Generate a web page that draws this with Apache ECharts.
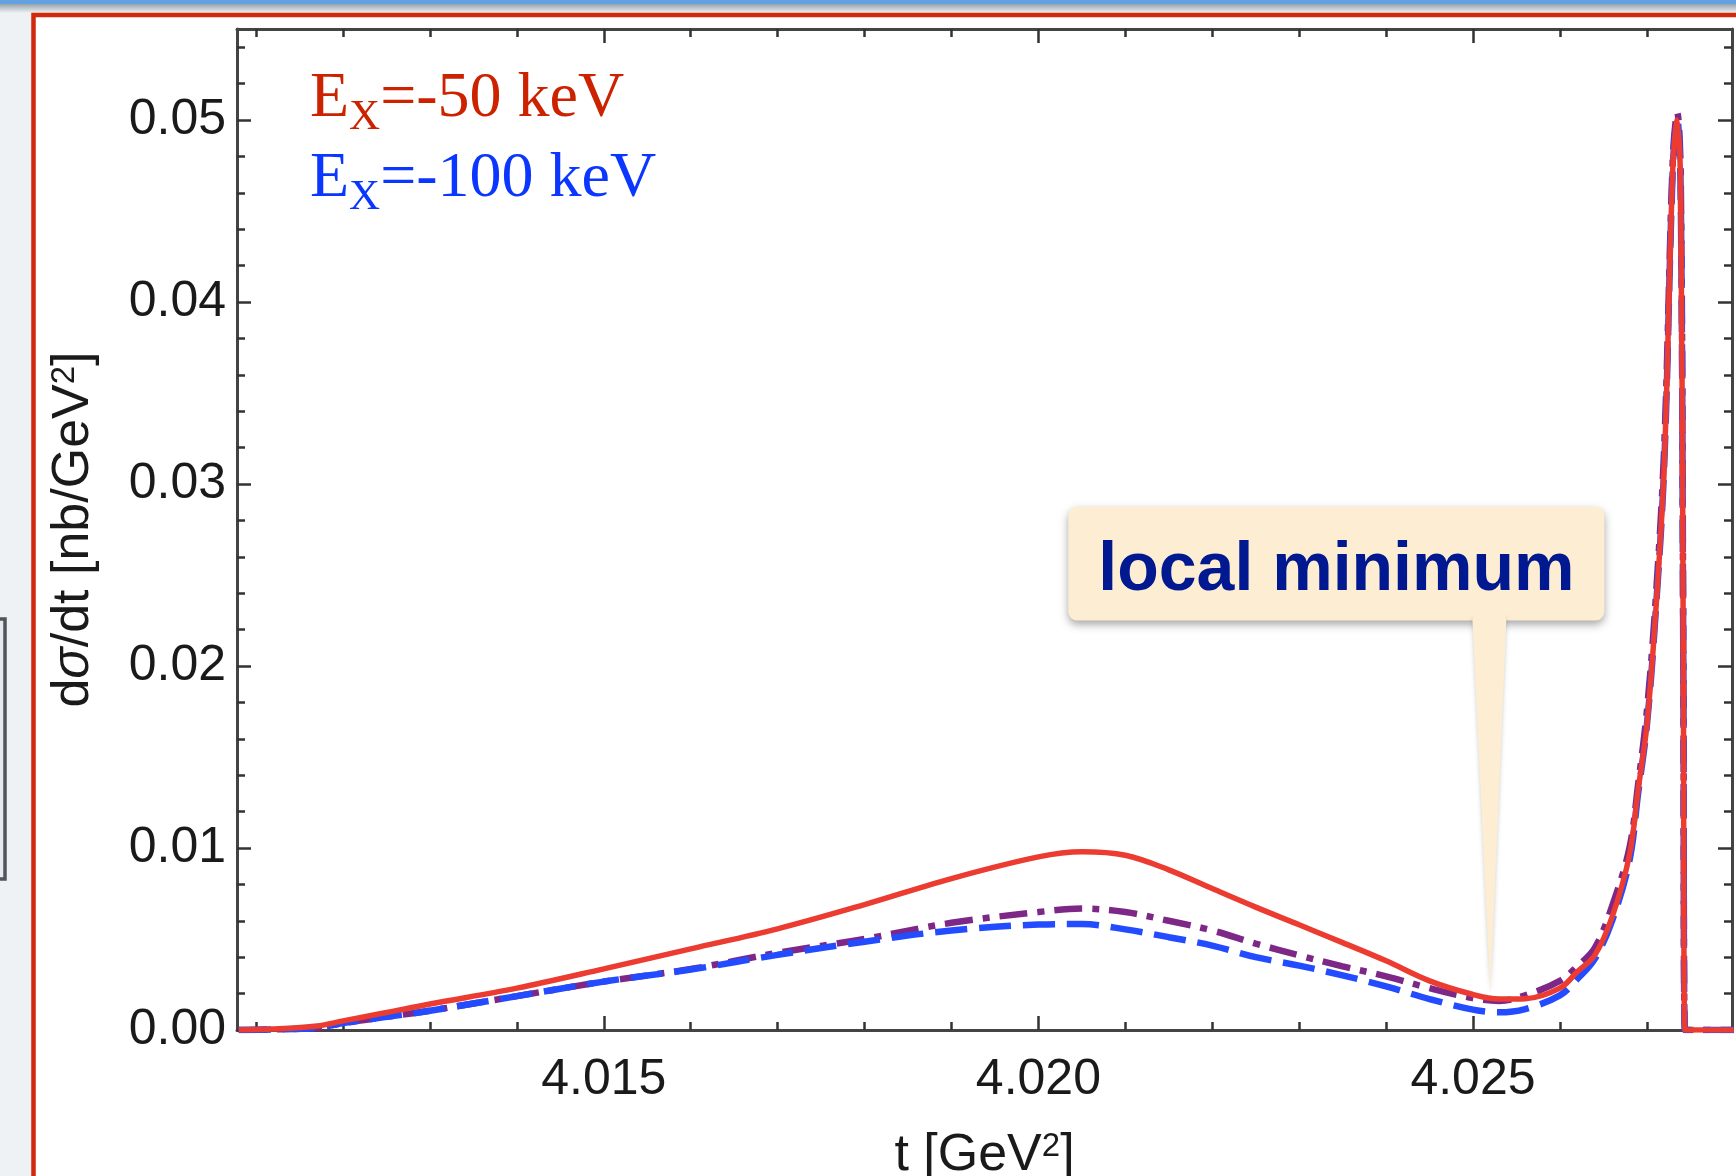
<!DOCTYPE html>
<html>
<head>
<meta charset="utf-8">
<script src="https://cdn.jsdelivr.net/npm/echarts@6/dist/echarts.min.js"></script>
<style>
html,body{margin:0;padding:0;background:#eef2f5;}
#chart{width:1736px;height:1176px;}
</style>
</head>
<body>
<div id="chart"></div>
<script>
// ---- data ----
const tValues = [4.0108, 4.0112, 4.0117, 4.0120, 4.0125, 4.0130, 4.0140, 4.0150, 4.0160, 4.0170,
  4.0180, 4.0190, 4.0200, 4.0205, 4.0210, 4.0215, 4.0220, 4.0225, 4.0230, 4.0235,
  4.0240, 4.0245, 4.0250, 4.0253, 4.0256, 4.0260, 4.0262, 4.0264, 4.0266, 4.0268,
  4.0269, 4.0270, 4.0271, 4.0272, 4.0273, 4.02735, 4.02739, 4.02742, 4.02744, 4.0280];
const redValues = [0.0000, 0.00005, 0.00022, 0.0005, 0.00096, 0.00143, 0.0023, 0.00336, 0.00446, 0.00556,
  0.00689, 0.00832, 0.00951, 0.00979, 0.0096, 0.0088, 0.00777, 0.00675, 0.00578, 0.0048,
  0.0038, 0.0027, 0.00195, 0.0017, 0.00172, 0.0023, 0.0032, 0.0041, 0.0062, 0.0096,
  0.0132, 0.0167, 0.0228, 0.031, 0.0475, 0.0500, 0.046, 0.020, 0.0, 0.0];
const purpleValues = [0.0000, 0.00003, 0.00012, 0.00038, 0.00072, 0.00106, 0.00186, 0.00266, 0.00335, 0.00424,
  0.0050, 0.00589, 0.00648, 0.00667, 0.00648, 0.0060, 0.00547, 0.00475, 0.0041, 0.0035,
  0.00295, 0.0023, 0.00175, 0.0016, 0.0019, 0.0027, 0.0035, 0.0045, 0.0068, 0.0100,
  0.0135, 0.0175, 0.0235, 0.032, 0.048, 0.0504, 0.047, 0.021, 0.0, 0.0];
const blueValues = [0.0000, 0.00003, 0.00012, 0.00038, 0.00072, 0.00106, 0.00186, 0.00266, 0.00332, 0.00413,
  0.00485, 0.00547, 0.00579, 0.00582, 0.00553, 0.0051, 0.00464, 0.0040, 0.00354, 0.0030,
  0.0024, 0.0017, 0.00112, 0.00097, 0.00115, 0.0019, 0.0028, 0.0039, 0.0060, 0.0093,
  0.0130, 0.0167, 0.0228, 0.031, 0.0475, 0.0500, 0.046, 0.020, 0.0, 0.0];

const xMajorTicks = [4.015, 4.020, 4.025];
const xMinorTicks = [4.011, 4.012, 4.013, 4.014, 4.016, 4.017, 4.018, 4.019,
  4.021, 4.022, 4.023, 4.024, 4.026, 4.027];
const yMajorTicks = [0.00, 0.01, 0.02, 0.03, 0.04, 0.05];
const yMinorTicks = [0.002, 0.004, 0.006, 0.008, 0.012, 0.014, 0.016, 0.018,
  0.022, 0.024, 0.026, 0.028, 0.032, 0.034, 0.036, 0.038,
  0.042, 0.044, 0.046, 0.048, 0.052, 0.054];
const xRange = [4.01078, 4.02798];
const yRange = [0, 0.055];

const legendSub = 'X';
const legendLabels = ['=-50 keV', '=-100 keV'];
const calloutText = 'local minimum';
const calloutPoint = [4.0252, 0.0020];
const xName = 't [GeV{s|2}]';
const yName = 'd{i|σ}/dt [nb/GeV{s|2}]';

// ---- styles ----
const SANS = 'Liberation Sans';
const SERIF = 'Liberation Serif';
const AXIS_COLOR = '#444';
const TICK_COLOR = '#333';
const TEXT_COLOR = '#1a1a1a';

function mkX(position, ticks, len, withLine, withLabel) {
  const ax = {
    type: 'value', position: position, min: xRange[0], max: xRange[1],
    axisLine: {show: withLine, onZero: false, lineStyle: {color: AXIS_COLOR, width: 3}},
    axisTick: {show: true, inside: true, length: len, customValues: ticks,
      lineStyle: {color: TICK_COLOR, width: 2.5}},
    axisLabel: {show: withLabel},
    splitLine: {show: false}
  };
  if (withLabel) {
    ax.axisLabel = {show: true, customValues: ticks, formatter: v => v.toFixed(3),
      margin: 25, fontSize: 50, fontFamily: SANS, color: TEXT_COLOR};
    ax.name = xName;
    ax.nameLocation = 'middle';
    ax.nameGap = 100;
    ax.nameTextStyle = {fontSize: 52, fontFamily: SANS, color: TEXT_COLOR,
      rich: {s: {fontSize: 33, fontFamily: SANS, color: TEXT_COLOR, verticalAlign: 'top'}}};
  }
  return ax;
}
function mkY(position, ticks, len, withLine, withLabel) {
  const ax = {
    type: 'value', position: position, min: yRange[0], max: yRange[1],
    axisLine: {show: withLine, onZero: false, lineStyle: {color: AXIS_COLOR, width: 3}},
    axisTick: {show: true, inside: true, length: len, customValues: ticks,
      lineStyle: {color: TICK_COLOR, width: 2.5}},
    axisLabel: {show: withLabel},
    splitLine: {show: false}
  };
  if (withLabel) {
    ax.axisLabel = {show: true, customValues: ticks, formatter: v => v.toFixed(2),
      margin: 11, fontSize: 50, fontFamily: SANS, color: TEXT_COLOR};
    ax.name = yName;
    ax.nameLocation = 'middle';
    ax.nameRotate = 90;
    ax.nameGap = 137;
    ax.nameTextStyle = {fontSize: 52, fontFamily: SANS, color: TEXT_COLOR,
      rich: {
        i: {fontSize: 52, fontFamily: SANS, color: TEXT_COLOR, fontStyle: 'italic'},
        s: {fontSize: 33, fontFamily: SANS, color: TEXT_COLOR, verticalAlign: 'top'}
      }};
  }
  return ax;
}

const chart = echarts.init(document.getElementById('chart'), null, {renderer: 'canvas'});

const pairs = vals => tValues.map((t, i) => [t, vals[i]]);

const legendText = legendLabels.map((lab, i) =>
  '{e' + i + '|E}{x' + i + '|' + legendSub + '}{r' + i + '|' + lab + '}').join('\n');
const legendColors = ['#cc2200', '#0a36ff'];
const legendRich = {};
legendLabels.forEach((lab, i) => {
  legendRich['e' + i] = {fontFamily: SERIF, fontSize: 64, lineHeight: 80, fill: legendColors[i]};
  legendRich['x' + i] = {fontFamily: SERIF, fontSize: 43, lineHeight: 54, verticalAlign: 'bottom', fill: legendColors[i]};
  legendRich['r' + i] = {fontFamily: SERIF, fontSize: 64, lineHeight: 80, fill: legendColors[i]};
});

chart.setOption({
  animation: false,
  backgroundColor: '#eef2f5',
  grid: {left: 237, top: 29, width: 1495, height: 1001, containLabel: false, outerBoundsMode: 'none'},
  xAxis: [
    mkX('bottom', xMajorTicks, 14, true, true),
    mkX('bottom', xMinorTicks, 8, false, false),
    mkX('top', xMajorTicks, 14, true, false),
    mkX('top', xMinorTicks, 8, false, false)
  ],
  yAxis: [
    mkY('left', yMajorTicks, 14, true, true),
    mkY('left', yMinorTicks, 8, false, false),
    mkY('right', yMajorTicks, 14, true, false),
    mkY('right', yMinorTicks, 8, false, false)
  ],
  series: [
    {name: 'purple', type: 'line', xAxisIndex: 0, yAxisIndex: 0, data: pairs(purpleValues),
      showSymbol: false, smooth: 0.35, z: 3,
      lineStyle: {color: '#7d2887', width: 6.5, type: [28, 10, 7, 10]}},
    {name: 'blue', type: 'line', xAxisIndex: 0, yAxisIndex: 0, data: pairs(blueValues),
      showSymbol: false, smooth: 0.35, z: 4,
      lineStyle: {color: '#234bff', width: 6.5, type: [32, 12]}},
    {name: 'red', type: 'line', xAxisIndex: 0, yAxisIndex: 0, data: pairs(redValues),
      showSymbol: false, smooth: 0.35, z: 5,
      lineStyle: {color: '#ec3b30', width: 5.5}}
  ]
});

// callout anchored to the local minimum
const tip = chart.convertToPixel({xAxisIndex: 0, yAxisIndex: 0}, calloutPoint);
const boxW = 536, boxH = 114;
const bx = tip[0] - 422, by = tip[1] - 487;

chart.setOption({
  graphic: [
    // page decorations
    {type: 'rect', z: -100, silent: true, shape: {x: 0, y: 0, width: 1736, height: 4},
      style: {fill: '#62a2e2'}},
    {type: 'rect', z: -100, silent: true, shape: {x: 0, y: 4, width: 1736, height: 9},
      style: {fill: new echarts.graphic.LinearGradient(0, 0, 0, 1, [
        {offset: 0, color: '#98a3ab'}, {offset: 1, color: '#eef2f5'}])}},
    {type: 'rect', z: -99, silent: true, shape: {x: 33.5, y: 15, width: 1800, height: 1300},
      style: {fill: '#ffffff', stroke: '#d0290c', lineWidth: 4.5}},
    {type: 'rect', z: -99, silent: true, shape: {x: -10, y: 619, width: 15, height: 260},
      style: {fill: '#e6eaee', stroke: '#4f555b', lineWidth: 3.5}},
    // legend-like labels
    {type: 'text', left: 310, top: 67, z: 10,
      style: {text: legendText, rich: legendRich, fontFamily: SERIF, fontSize: 64}},
    // callout
    {type: 'rect', z: 20, shape: {x: bx, y: by, width: boxW, height: boxH, r: 9},
      style: {fill: '#fdeed3', shadowBlur: 9, shadowOffsetY: 4, shadowColor: 'rgba(0,0,0,0.35)'}},
    {type: 'polygon', z: 21, shape: {points: [[tip[0] - 18, by + boxH - 2], [tip[0] + 16, by + boxH - 2], [tip[0], tip[1]]]},
      style: {fill: '#fdeed3', shadowBlur: 4, shadowColor: 'rgba(0,0,0,0.2)'}},
    {type: 'rect', z: 22, shape: {x: tip[0] - 17, y: by + boxH - 6, width: 32, height: 6},
      style: {fill: '#fdeed3'}},
    {type: 'text', z: 23, x: bx + boxW / 2, y: by + boxH / 2 + 8,
      style: {text: calloutText, fontFamily: SANS, fontWeight: 'bold', fontSize: 68,
        fill: '#001890', align: 'center', verticalAlign: 'middle', textAlign: 'center', textVerticalAlign: 'middle'}}
  ]
});
</script>
</body>
</html>
